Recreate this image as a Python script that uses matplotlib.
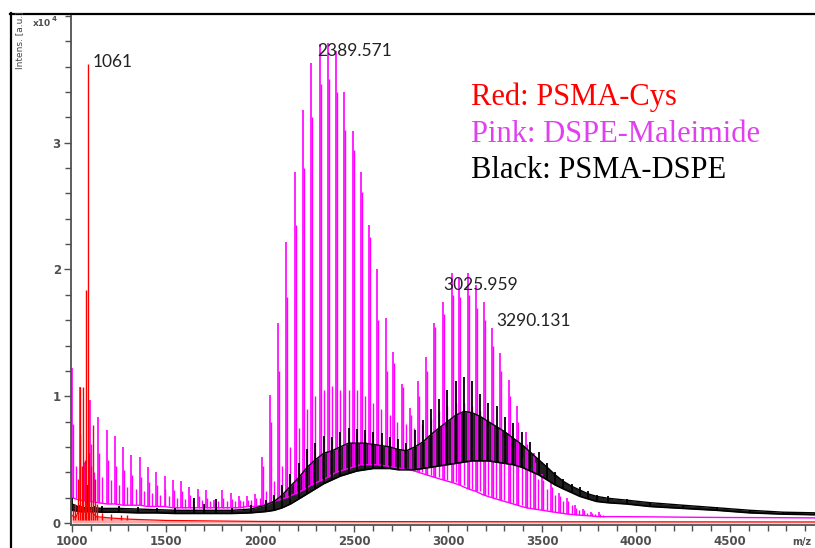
import matplotlib
matplotlib.use("Agg")
import matplotlib.pyplot as plt
import matplotlib.ticker as tck
from matplotlib.lines import Line2D
import numpy as np

# intensities in units of 1e4 (as on the y axis)

# Pink: DSPE-Maleimide, PEG ladder (main peak, shoulder, in-between peak, floor)
pink_mz = [1000, 1040, 1096, 1140, 1184, 1228, 1272, 1316, 1360, 1404, 1448, 1492,
           1536, 1580, 1624, 1668, 1712, 1756, 1800, 1844, 1888, 1932, 1976,
           2012, 2053, 2097, 2140, 2185, 2229, 2273, 2317, 2361, 2405, 2449, 2493,
           2537, 2579, 2623, 2668, 2709, 2753, 2798, 2842, 2885, 2928, 2973, 3020,
           3061, 3105, 3147, 3190, 3233, 3277, 3324, 3369, 3415, 3458, 3502, 3546,
           3590, 3635, 3675, 3718, 3760, 3803]
pink_hi = [1.22, 1.07, 0.97, 0.84, 0.73, 0.69, 0.60, 0.54, 0.52, 0.44, 0.40, 0.37,
           0.34, 0.33, 0.28, 0.27, 0.26, 0.18, 0.26, 0.24, 0.21, 0.21, 0.23,
           0.52, 1.01, 1.58, 2.22, 2.77, 3.26, 3.63, 3.78, 3.79, 3.72, 3.40, 3.09,
           2.77, 2.35, 2.00, 1.62, 1.35, 1.10, 0.91, 1.12, 1.31, 1.58, 1.74, 1.97,
           1.93, 1.97, 1.88, 1.74, 1.54, 1.34, 1.13, 0.92, 0.72, 0.55, 0.39, 0.32,
           0.24, 0.20, 0.14, 0.11, 0.09, 0.09]
pink_sh = [0.78, 0.70, 0.62, 0.55, 0.50, 0.45, 0.42, 0.38, 0.36, 0.32, 0.30, 0.27,
           0.26, 0.25, 0.22, 0.21, 0.20, 0.16, 0.20, 0.19, 0.18, 0.18, 0.20,
           0.45, 0.80, 1.20, 1.78, 2.35, 2.80, 3.20, 3.46, 3.50, 3.40, 3.10, 2.94,
           2.61, 2.26, 1.60, 1.20, 1.26, 1.07, 0.85, 1.00, 1.20, 1.55, 1.65, 1.80,
           1.78, 1.80, 1.70, 1.60, 1.40, 1.20, 1.00, 0.80, 0.62, 0.48, 0.34, 0.28,
           0.21, 0.17, 0.12, 0.10, 0.08, 0.07]
pink_mid = [0.45, 0.48, 0.40, 0.36, 0.34, 0.30, 0.28, 0.27, 0.25, 0.24, 0.22, 0.21,
            0.20, 0.19, 0.18, 0.18, 0.17, 0.17, 0.17, 0.17, 0.17, 0.18, 0.20,
            0.25, 0.33, 0.45, 0.60, 0.75, 0.90, 1.00, 1.05, 1.08, 1.05, 1.05, 1.05,
            1.00, 0.95, 0.90, 0.85, 0.80, 0.78, 0.75, 0.78, 0.82, 0.88, 0.92, 0.95,
            0.95, 0.92, 0.88, 0.82, 0.75, 0.68, 0.60, 0.52, 0.43, 0.35, 0.27, 0.22,
            0.17, 0.14, 0.10, 0.08, 0.07, 0.06]
pink_base = [0.20, 0.18, 0.17, 0.16, 0.15, 0.15, 0.14, 0.14, 0.14, 0.13, 0.13, 0.13,
             0.12, 0.12, 0.12, 0.12, 0.12, 0.12, 0.12, 0.12, 0.12, 0.13, 0.13,
             0.14, 0.16, 0.18, 0.20, 0.23, 0.26, 0.30, 0.33, 0.36, 0.40, 0.42, 0.44,
             0.46, 0.46, 0.46, 0.45, 0.44, 0.43, 0.42, 0.40, 0.38, 0.36, 0.34, 0.32,
             0.30, 0.27, 0.25, 0.22, 0.20, 0.18, 0.16, 0.14, 0.12, 0.11, 0.10, 0.09,
             0.08, 0.07, 0.065, 0.06, 0.055, 0.05]
pink_tail_mz = [3900, 4100, 4300, 4500, 4700, 4952]
pink_tail = [0.05, 0.048, 0.045, 0.043, 0.042, 0.04]
SHOULDER = 5    # Da, adduct next to each ladder peak
MIDPEAK = 22    # Da, smaller peak between ladder peaks

# Black: PSMA-DSPE (lower edge of the noisy band, top of the band, spike tops)
black_mz = [1000, 1045, 1083, 1120, 1160, 1250, 1350, 1450, 1550, 1650, 1700, 1765,
            1850, 1950, 2030, 2075, 2118, 2162, 2207, 2251, 2295, 2339, 2383, 2427,
            2471, 2515, 2559, 2603, 2647, 2691, 2735, 2779, 2823, 2867, 2911, 2953,
            2997, 3041, 3084, 3128, 3172, 3214, 3258, 3302, 3346, 3392, 3437, 3482,
            3527, 3570, 3612, 3657, 3701, 3745, 3790, 3850, 3950, 4075, 4250, 4430,
            4606, 4782, 4952]
black_lo = [0.10, 0.09, 0.09, 0.09, 0.085, 0.085, 0.08, 0.08, 0.075, 0.075, 0.075, 0.075,
            0.075, 0.08, 0.09, 0.10, 0.12, 0.15, 0.19, 0.23, 0.27, 0.31, 0.34, 0.37,
            0.39, 0.41, 0.42, 0.43, 0.43, 0.43, 0.42, 0.42, 0.42, 0.43, 0.44, 0.45,
            0.46, 0.47, 0.48, 0.49, 0.49, 0.49, 0.48, 0.47, 0.46, 0.44, 0.41, 0.38,
            0.34, 0.30, 0.27, 0.24, 0.21, 0.19, 0.17, 0.16, 0.15, 0.13, 0.115, 0.10,
            0.08, 0.07, 0.065]
black_mid = [0.15, 0.12, 0.12, 0.12, 0.115, 0.115, 0.11, 0.105, 0.10, 0.10, 0.10, 0.10,
             0.10, 0.11, 0.14, 0.17, 0.22, 0.29, 0.36, 0.44, 0.50, 0.55, 0.57, 0.60,
             0.63, 0.63, 0.63, 0.62, 0.61, 0.60, 0.58, 0.57, 0.60, 0.64, 0.70, 0.75,
             0.80, 0.85, 0.88, 0.87, 0.84, 0.80, 0.76, 0.72, 0.67, 0.62, 0.56, 0.50,
             0.44, 0.38, 0.33, 0.29, 0.26, 0.23, 0.21, 0.195, 0.18, 0.16, 0.14, 0.12,
             0.10, 0.085, 0.08]
black_hi = [0.20, 0.14, 0.30, 0.13, 0.13, 0.13, 0.125, 0.12, 0.12, 0.20, 0.15, 0.19,
            0.12, 0.14, 0.18, 0.22, 0.30, 0.39, 0.47, 0.58, 0.63, 0.69, 0.68, 0.72,
            0.75, 0.74, 0.73, 0.72, 0.71, 0.68, 0.66, 0.63, 0.73, 0.81, 0.90, 0.98,
            1.05, 1.12, 1.15, 1.12, 1.02, 0.95, 0.92, 0.84, 0.79, 0.72, 0.64, 0.56,
            0.47, 0.40, 0.35, 0.31, 0.28, 0.25, 0.22, 0.21, 0.19, 0.165, 0.145, 0.125,
            0.10, 0.09, 0.08]

# Red: PSMA-Cys
red_mz = [1005, 1018, 1030, 1043, 1052, 1060, 1068, 1075, 1083, 1092, 1100, 1113,
          1122, 1135, 1160, 1210, 1260, 1290]
red_hi = [0.10, 0.15, 0.35, 1.07, 0.45, 1.07, 0.50, 1.84, 3.62, 0.55, 0.45, 0.77,
          0.35, 0.15, 0.08, 0.07, 0.06, 0.06]
red_base_mz = [1000, 1020, 1035, 1050, 1065, 1080, 1095, 1110, 1130, 1200, 1300,
               1500, 2000, 3000, 4952]
red_base = [0.06, 0.04, 0.10, 0.13, 0.09, 0.14, 0.10, 0.08, 0.05, 0.04, 0.03,
            0.02, 0.012, 0.01, 0.008]

labels = ["1061", "2389.571", "3025.959", "3290.131"]
label_x = [1112, 2303, 2973, 3255]
label_y = [3.64, 3.72, 1.88, 1.59]

legend_lines = ["Red: PSMA-Cys", "Pink: DSPE-Maleimide", "Black: PSMA-DSPE"]

PINK = "#ff00ff"
RED = "#ff0000"
GREY = "#505050"

fig = plt.figure(figsize=(8.15, 5.48), dpi=100)
ax = fig.add_axes([70.5/815, 23/548, (815-70.5)/815, (525-16)/548])

pm = np.array(pink_mz, dtype=float)
ax.plot(list(pink_mz) + pink_tail_mz, list(pink_base) + pink_tail, color=PINK, lw=1.0)
ax.vlines(pm, pink_base, pink_hi, color=PINK, lw=1.2)
ax.vlines(pm + SHOULDER, pink_base, pink_sh, color=PINK, lw=1.0)
ax.vlines(pm + MIDPEAK, pink_base, pink_mid, color=PINK, lw=1.0)

bm = np.array(black_mz, dtype=float)
ax.fill_between(bm, black_lo, black_mid, color="#202020", lw=0)
ax.plot(bm, black_lo, color="black", lw=1.2)
ax.plot(bm, black_mid, color="black", lw=1.0)
ax.vlines(bm, black_lo, black_hi, color="black", lw=1.3)

ax.fill_between(red_base_mz, 0, red_base, color=RED, alpha=0.35, lw=0)
ax.plot(red_base_mz, red_base, color=RED, lw=0.9)
ax.vlines(red_mz, 0.02, red_hi, color=RED, lw=1.0)

for t, x, y in zip(labels, label_x, label_y):
    ax.text(x, y, t, fontsize=12.5, family="Lato", color="#222222", va="center", ha="left")

for i, (t, c) in enumerate(zip(legend_lines, [RED, "#e040f0", "black"])):
    fig.text(471/815, 1 - (97 + 37*i)/548, t, fontsize=22, family="Liberation Serif",
             color=c, va="center", ha="left")

ax.set_xlim(992, 4952)
ax.set_ylim(-0.016, 4.0)
ax.set_xticks([1000, 1500, 2000, 2500, 3000, 3500, 4000, 4500])
ax.set_yticks([0, 1, 2, 3])
ax.xaxis.set_minor_locator(tck.MultipleLocator(100))
ax.yaxis.set_minor_locator(tck.MultipleLocator(0.2))
ax.tick_params(which="both", direction="out", color=GREY, width=1,
               labelsize=8.5, labelcolor=GREY, pad=2)
ax.tick_params(which="major", length=5)
ax.tick_params(which="minor", length=4)
for lab in ax.get_xticklabels() + ax.get_yticklabels():
    lab.set_fontweight("bold")
for s in ["top", "right"]:
    ax.spines[s].set_visible(False)
for s in ["left", "bottom"]:
    ax.spines[s].set_color(GREY)
    ax.spines[s].set_linewidth(1.3)

fig.text(20/815, 1 - 40/548, "Intens. [a.u.]", rotation=90, fontsize=6.5,
         color="#444444", ha="center", va="center")
fig.text(33/815, 1 - 23/548, "x10", fontsize=6.5, fontweight="bold", color=GREY,
         ha="left", va="center")
fig.text(52/815, 1 - 19/548, "4", fontsize=5, fontweight="bold", color=GREY,
         ha="left", va="center")
fig.text(792/815, 1/548, "m/z", fontsize=7, fontweight="bold", color=GREY,
         ha="left", va="bottom")

# screenshot frame on the left and top
fig.add_artist(Line2D([10.5/815, 10.5/815], [0, 1 - 13/548], color="black", lw=1.6,
                      transform=fig.transFigure))
fig.add_artist(Line2D([10/815, 1], [1 - 14/548, 1 - 14/548], color="black", lw=1.6,
                      transform=fig.transFigure))

fig.savefig("out.png", dpi=100)
